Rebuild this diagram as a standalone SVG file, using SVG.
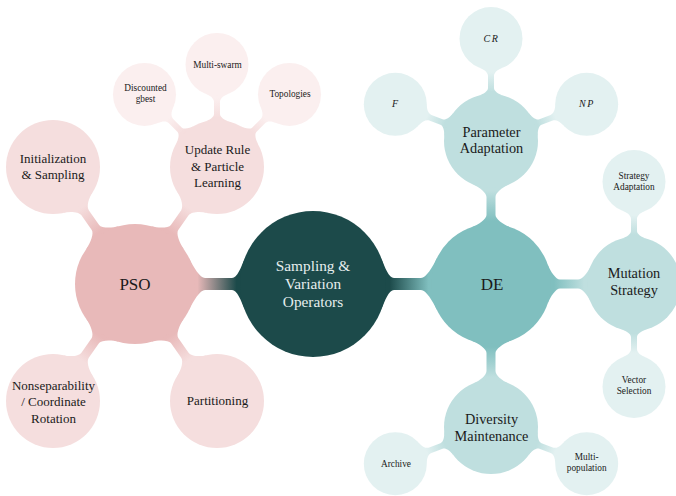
<svg xmlns="http://www.w3.org/2000/svg" xmlns:xlink="http://www.w3.org/1999/xlink" width="676" height="496" viewBox="0 0 676 496" font-family="Liberation Serif, DejaVu Serif, serif">
  <defs>
    <style>
      text { font-family: "Liberation Serif", "DejaVu Serif", serif; text-anchor: middle; fill: #1a1a1a; }
      .t0 { font-size: 15.3px; fill: #e6eeee; }
      .t1 { font-size: 17px; }
      .tp2 { font-size: 13px; }
      .td2 { font-size: 14.3px; }
      .t3 { font-size: 9.3px; }
      .m { font-style: italic; font-size: 10px; letter-spacing: 1.5px; }
      .c0 { fill: #1c4a4a; }
      .cp1 { fill: #e8b9b9; }
      .cp2 { fill: #f5dede; }
      .cp3 { fill: #fbefef; }
      .cd1 { fill: #80bfbf; }
      .cd2 { fill: #bfdfdf; }
      .cd3 { fill: #e3f1f1; }
    </style>
    <!-- colour ramps running along each bar, from parent to child -->
    <linearGradient id="gCP" x1="0" y1="0" x2="1" y2="0">
      <stop offset="0.15" stop-color="#1c4a4a"/><stop offset="0.85" stop-color="#e8b9b9"/>
    </linearGradient>
    <linearGradient id="gCD" x1="0" y1="0" x2="1" y2="0">
      <stop offset="0.15" stop-color="#1c4a4a"/><stop offset="0.85" stop-color="#80bfbf"/>
    </linearGradient>
    <linearGradient id="gP2" x1="0" y1="0" x2="1" y2="0">
      <stop offset="0.15" stop-color="#e8b9b9"/><stop offset="0.85" stop-color="#f5dede"/>
    </linearGradient>
    <linearGradient id="gP3" x1="0" y1="0" x2="1" y2="0">
      <stop offset="0.15" stop-color="#f5dede"/><stop offset="0.85" stop-color="#fbefef"/>
    </linearGradient>
    <linearGradient id="gD2" x1="0" y1="0" x2="1" y2="0">
      <stop offset="0.15" stop-color="#80bfbf"/><stop offset="0.85" stop-color="#bfdfdf"/>
    </linearGradient>
    <linearGradient id="gD3" x1="0" y1="0" x2="1" y2="0">
      <stop offset="0.15" stop-color="#bfdfdf"/><stop offset="0.85" stop-color="#e3f1f1"/>
    </linearGradient>
    <!-- connection bars in local frame: parent centre at origin, child on +x axis -->
    <path id="bar01" d="M68.21,26 C71.77,16.66 76,6 81,6 L108,6 C113,6 119.6,16.99 123.93,26 L123.93,-26 C119.6,-16.99 113,-6 108,-6 L81,-6 C76,-6 71.77,-16.66 68.21,-26 Z"/>
    <path id="bar12" d="M56.57,20 C59.24,12.46 65,4.5 69,4.5 L87,4.5 C91,4.5 96.52,10.61 99.58,18 L99.58,-18 C96.52,-10.61 91,-4.5 87,-4.5 L69,-4.5 C65,-4.5 59.24,-12.46 56.57,-20 Z"/>
    <path id="bar23" d="M45.17,13 C46.83,7.23 50,3 53,3 L65,3 C68,3 71.06,5.85 72.98,11 L72.98,-11 C71.06,-5.85 68,-3 65,-3 L53,-3 C50,-3 46.83,-7.23 45.17,-13 Z"/>
  </defs>

  <g id="connectors">
    <use xlink:href="#bar01" fill="url(#gCP)" transform="translate(313,284) rotate(180)"/>
    <use xlink:href="#bar01" fill="url(#gCD)" transform="translate(313,284)"/>

    <use xlink:href="#bar12" fill="url(#gP2)" transform="translate(135,284) rotate(-125)"/>
    <use xlink:href="#bar12" fill="url(#gP2)" transform="translate(135,284) rotate(-55)"/>
    <use xlink:href="#bar12" fill="url(#gP2)" transform="translate(135,284) rotate(125)"/>
    <use xlink:href="#bar12" fill="url(#gP2)" transform="translate(135,284) rotate(55)"/>

    <use xlink:href="#bar23" fill="url(#gP3)" transform="translate(217,167) rotate(-135)"/>
    <use xlink:href="#bar23" fill="url(#gP3)" transform="translate(217,167) rotate(-90)"/>
    <use xlink:href="#bar23" fill="url(#gP3)" transform="translate(217,167) rotate(-45)"/>

    <use xlink:href="#bar12" fill="url(#gD2)" transform="translate(491,284) rotate(-90)"/>
    <use xlink:href="#bar12" fill="url(#gD2)" transform="translate(491,284)"/>
    <use xlink:href="#bar12" fill="url(#gD2)" transform="translate(491,284) rotate(90)"/>

    <use xlink:href="#bar23" fill="url(#gD3)" transform="translate(491,141) rotate(-159)"/>
    <use xlink:href="#bar23" fill="url(#gD3)" transform="translate(491,141) rotate(-90)"/>
    <use xlink:href="#bar23" fill="url(#gD3)" transform="translate(491,141) rotate(-21)"/>

    <use xlink:href="#bar23" fill="url(#gD3)" transform="translate(634,284) rotate(-90)"/>
    <use xlink:href="#bar23" fill="url(#gD3)" transform="translate(634,284) rotate(90)"/>

    <use xlink:href="#bar23" fill="url(#gD3)" transform="translate(491,427) rotate(159)"/>
    <use xlink:href="#bar23" fill="url(#gD3)" transform="translate(491,427) rotate(21)"/>
  </g>

  <!-- root -->
  <g id="sampling-variation">
    <circle class="c0" cx="313" cy="284" r="73"/>
    <text class="t0" x="313" y="270.5">Sampling &amp;</text>
    <text class="t0" x="313" y="288.5">Variation</text>
    <text class="t0" x="313" y="306.5">Operators</text>
  </g>

  <!-- PSO branch -->
  <g id="pso">
    <circle class="cp1" cx="135" cy="284" r="60"/>
    <text class="t1" x="135" y="290">PSO</text>
  </g>
  <g id="initialization">
    <circle class="cp2" cx="53" cy="167" r="47"/>
    <text class="tp2" x="53" y="162.5">Initialization</text>
    <text class="tp2" x="53" y="179">&amp; Sampling</text>
  </g>
  <g id="update-rule">
    <circle class="cp2" cx="217" cy="167" r="47"/>
    <text class="tp2" x="217.5" y="153.5">Update Rule</text>
    <text class="tp2" x="217.5" y="170.5">&amp; Particle</text>
    <text class="tp2" x="217.5" y="187">Learning</text>
  </g>
  <g id="nonseparability">
    <circle class="cp2" cx="53" cy="401" r="47"/>
    <text class="tp2" x="53.5" y="389.5">Nonseparability</text>
    <text class="tp2" x="53.5" y="406">/ Coordinate</text>
    <text class="tp2" x="53.5" y="422.5">Rotation</text>
  </g>
  <g id="partitioning">
    <circle class="cp2" cx="217" cy="401" r="47"/>
    <text class="tp2" x="217.5" y="404.5">Partitioning</text>
  </g>
  <g id="discounted-gbest">
    <circle class="cp3" cx="144.5" cy="94.4" r="31.5"/>
    <text class="t3" x="145.5" y="91">Discounted</text>
    <text class="t3" x="145.5" y="101.5">gbest</text>
  </g>
  <g id="multi-swarm">
    <circle class="cp3" cx="217" cy="64.4" r="31.5"/>
    <text class="t3" x="217.5" y="67.5">Multi-swarm</text>
  </g>
  <g id="topologies">
    <circle class="cp3" cx="289.5" cy="94.4" r="31.5"/>
    <text class="t3" x="290" y="96.7">Topologies</text>
  </g>

  <!-- DE branch -->
  <g id="de">
    <circle class="cd1" cx="491" cy="284" r="60"/>
    <text class="t1" x="492" y="290">DE</text>
  </g>
  <g id="parameter-adaptation">
    <circle class="cd2" cx="491" cy="141" r="47"/>
    <text class="td2" x="491.5" y="136.7">Parameter</text>
    <text class="td2" x="491.5" y="152.7">Adaptation</text>
  </g>
  <g id="mutation-strategy">
    <circle class="cd2" cx="634" cy="284" r="47"/>
    <text class="td2" x="634" y="278">Mutation</text>
    <text class="td2" x="634" y="295">Strategy</text>
  </g>
  <g id="diversity-maintenance">
    <circle class="cd2" cx="491" cy="427" r="47"/>
    <text class="td2" x="491.5" y="424">Diversity</text>
    <text class="td2" x="491.5" y="441">Maintenance</text>
  </g>
  <g id="param-cr">
    <circle class="cd3" cx="491" cy="38.5" r="31.5"/>
    <text class="m" x="491.5" y="42">CR</text>
  </g>
  <g id="param-f">
    <circle class="cd3" cx="395.3" cy="104.3" r="31.5"/>
    <text class="m" x="395.7" y="107">F</text>
  </g>
  <g id="param-np">
    <circle class="cd3" cx="586.7" cy="104.3" r="31.5"/>
    <text class="m" x="587" y="107">NP</text>
  </g>
  <g id="strategy-adaptation">
    <circle class="cd3" cx="634" cy="181.5" r="31.5"/>
    <text class="t3" x="634" y="179">Strategy</text>
    <text class="t3" x="634" y="190">Adaptation</text>
  </g>
  <g id="vector-selection">
    <circle class="cd3" cx="634" cy="386.5" r="31.5"/>
    <text class="t3" x="634" y="383.3">Vector</text>
    <text class="t3" x="634" y="394.3">Selection</text>
  </g>
  <g id="archive">
    <circle class="cd3" cx="395.3" cy="463.7" r="31.5"/>
    <text class="t3" x="396" y="466.7">Archive</text>
  </g>
  <g id="multi-population">
    <circle class="cd3" cx="586.7" cy="463.7" r="31.5"/>
    <text class="t3" x="586.7" y="460">Multi-</text>
    <text class="t3" x="586.7" y="471">population</text>
  </g>
</svg>
